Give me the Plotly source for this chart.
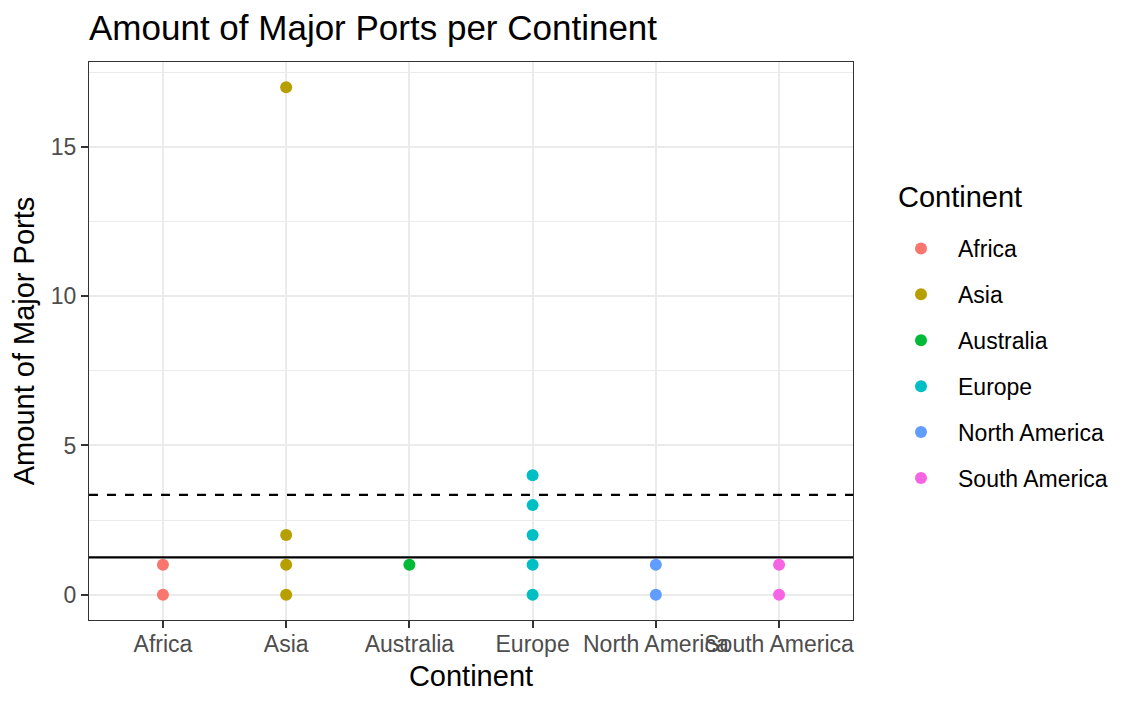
import plotly.graph_objects as go

# ---- data ----
continents = ["Africa", "Asia", "Australia", "Europe", "North America", "South America"]
colors = ["#F8766D", "#B79F00", "#00BA38", "#00BFC4", "#619CFF", "#F564E3"]
africa_ports = [0, 1]
asia_ports = [0, 1, 2, 17]
australia_ports = [1]
europe_ports = [0, 1, 2, 3, 4]
north_america_ports = [0, 1]
south_america_ports = [0, 1]
series = [africa_ports, asia_ports, australia_ports, europe_ports,
          north_america_ports, south_america_ports]
mean_line = 1.25
upper_line = 3.34
y_ticks = [0, 5, 10, 15]

fig = go.Figure()
for name, col, vals in zip(continents, colors, series):
    fig.add_trace(go.Scatter(
        x=[name] * len(vals), y=vals, mode="markers", name=name,
        legendgroup=name,
        marker=dict(color=col, size=12, line=dict(width=0)),
    ))

fig.add_hline(y=mean_line, line=dict(color="black", width=2.2, dash="solid"))
fig.add_hline(y=upper_line, line=dict(color="black", width=2.2, dash="dash"))

# page is offset by the 8px body margin
OFF = 8
W, H = 1142 - 2 * OFF, 705 - 2 * OFF
L, R, T, B = 89 - OFF, 853 - OFF, 62 - OFF, 620 - OFF
PW, PH = R - L, B - T

# legend title as an annotation (page coords -> figure coords)
fig.add_annotation(
    text="Continent", xref="paper", yref="paper",
    x=(896 - OFF - L) / PW, y=(B - (197 - OFF)) / PH,
    xanchor="left", yanchor="middle", showarrow=False,
    font=dict(size=29, color="black"),
)

fig.update_layout(
    width=W, height=H,
    margin=dict(l=L, r=W - R, t=T, b=H - B, autoexpand=False),
    paper_bgcolor="white", plot_bgcolor="white",
    font=dict(family="Liberation Sans, Arial, sans-serif", color="black"),
    title=dict(text="Amount of Major Ports per Continent", font=dict(size=35, color="black"),
               xref="container", x=L / W, xanchor="left",
               yref="container", y=1 - 20 / H, yanchor="middle"),
    showlegend=True,
    legend=dict(
        font=dict(size=23, color="black"),
        x=(884 - OFF - L) / PW, xanchor="left",
        y=(B - (227 - OFF)) / PH, yanchor="top",
        tracegroupgap=13, itemsizing="trace", itemwidth=64,
        bgcolor="rgba(0,0,0,0)",
    ),
    xaxis=dict(
        categoryorder="array", categoryarray=continents,
        range=[-0.6, 5.6],
        showgrid=True, gridcolor="#EBEBEB", gridwidth=1.5,
        zeroline=False,
        showline=True, linecolor="#333333", linewidth=1, mirror=True,
        ticks="outside", ticklen=7, tickcolor="#333333", tickwidth=1.5,
        tickangle=0, ticklabelstandoff=-4,
        tickfont=dict(size=23, color="#4D4D4D"),
        title=dict(text="Continent", font=dict(size=29, color="black"), standoff=10),
    ),
    yaxis=dict(
        range=[-0.85, 17.85],
        tickvals=y_ticks,
        showgrid=True, gridcolor="#EBEBEB", gridwidth=1.5,
        minor=dict(dtick=2.5, tick0=0, showgrid=True, gridcolor="#EBEBEB", gridwidth=0.8),
        zeroline=False,
        showline=True, linecolor="#333333", linewidth=1, mirror=True,
        ticks="outside", ticklen=7, tickcolor="#333333", tickwidth=1.5,
        tickfont=dict(size=23, color="#4D4D4D"),
        title=dict(text="Amount of Major Ports", font=dict(size=29, color="black"), standoff=8),
    ),
)

fig.write_html("out.html")
